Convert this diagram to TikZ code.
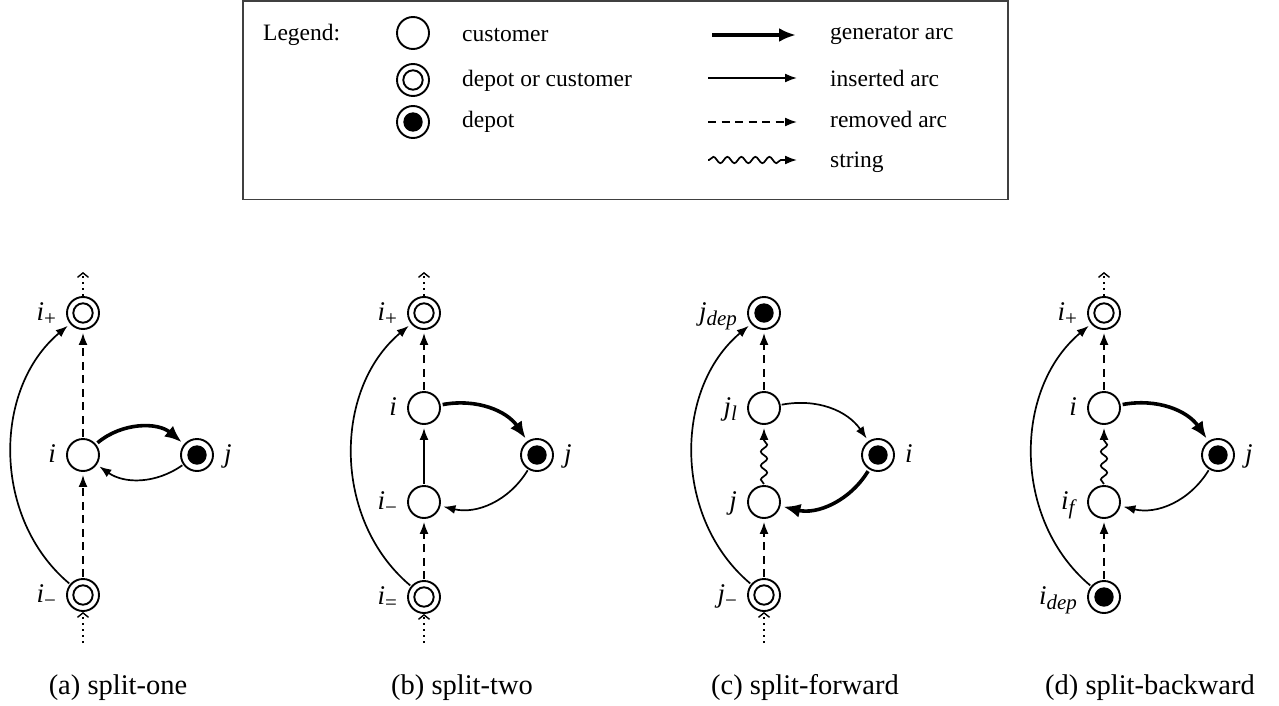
\documentclass[tikz,border=0pt]{standalone}
\usepackage{fontspec}
\setmainfont{Liberation Serif}
\usetikzlibrary{arrows.meta, decorations.pathmorphing}

% lowered, smaller subscript for the node labels
\newcommand\lsub[1]{\raisebox{-5pt}{\fontsize{21}{21}\selectfont #1}}

\begin{document}
\begin{tikzpicture}[x=1pt, y=-1pt,
  cust/.style={circle, draw, line width=1.9pt, minimum size=32pt, inner sep=0pt},
  dual/.style={cust, path picture={\draw[line width=1.9pt] (path picture bounding box.center) circle (9.7pt);}},
  depot/.style={cust, path picture={\fill (path picture bounding box.center) circle (9.7pt);}},
  lbl/.style={inner sep=0pt, font=\fontsize{27}{30}\selectfont},
  txt/.style={inner sep=0pt, anchor=base west, font=\fontsize{23.5}{28}\selectfont},
  captxt/.style={inner sep=0pt, anchor=base, font=\fontsize{28.5}{32}\selectfont},
  ins/.style={line width=1.7pt, -{Latex[length=12pt,width=9pt]}, shorten >=3pt, shorten <=1pt},
  gen/.style={line width=3.6pt, -{Latex[length=17pt,width=14pt]}, shorten >=3pt, shorten <=2pt},
  rem/.style={ins, dash pattern=on 8pt off 5.5pt},
  str/.style={ins, decorate, decoration={snake, amplitude=3.2pt, segment length=14pt, pre length=1pt, post length=13pt}},
  cont/.style={line width=1.4pt, dash pattern=on 1.6pt off 4.5pt, -{Straight Barb[length=4.5pt,width=11pt]}},
]
\useasboundingbox (0,0) rectangle (1279,706);

% ---------------- legend ----------------
\draw[line width=1.3pt, black!75] (243,1) rectangle (1008,199.5);
\node[txt] (lg) at (263,41) {Legend:};
\node[cust]  (lg-c) at (413,33) {};
\node[dual]  (lg-d) at (413,80) {};
\node[depot] (lg-p) at (413,122) {};
\node[txt] (lg-ct) at (462,42) {customer};
\node[txt] (lg-dt) at (462,87) {depot or customer};
\node[txt] (lg-pt) at (462,128) {depot};

\coordinate (lg-g0) at (712,35);  \coordinate (lg-g1) at (796,35);
\coordinate (lg-i0) at (708,78);  \coordinate (lg-i1) at (797,78);
\coordinate (lg-r0) at (708,122); \coordinate (lg-r1) at (797,122);
\coordinate (lg-s0) at (708,160); \coordinate (lg-s1) at (797,160);
\draw[gen, shorten >=0pt, shorten <=0pt] (lg-g0) -- (lg-g1);
\draw[ins, shorten >=0pt, shorten <=0pt] (lg-i0) -- (lg-i1);
\draw[rem, shorten >=0pt, shorten <=0pt] (lg-r0) -- (lg-r1);
\draw[str, shorten >=0pt, shorten <=0pt] (lg-s0) -- (lg-s1);
\node[txt] (lg-gt) at (830,40) {generator arc};
\node[txt] (lg-it) at (830,87) {inserted arc};
\node[txt] (lg-rt) at (830,128) {removed arc};
\node[txt] (lg-st) at (830,167) {string};

% ---------------- (a) split-one ----------------
\node[dual]  (a-ip) at (83,313) {};
\node[cust]  (a-i)  at (83,455) {};
\node[dual]  (a-im) at (83,595) {};
\node[depot] (a-j)  at (197,455) {};
\node[lbl, anchor=base east] (a-ip-l) at ([xshift=-10pt,yshift=-7pt]a-ip.west) {\textit{i}\lsub{+}};
\node[lbl, anchor=base east] (a-i-l)  at ([xshift=-10pt,yshift=-7pt]a-i.west)  {\textit{i}};
\node[lbl, anchor=base east] (a-im-l) at ([xshift=-10pt,yshift=-7pt]a-im.west) {\textit{i}\lsub{−}};
\node[lbl, anchor=base west] (a-j-l)  at ([xshift=10pt,yshift=-7pt]a-j.east)   {\textit{j}};
\coordinate (a-top) at (83,272);
\coordinate (a-bot) at (83,643);
\draw[rem] (a-im) -- (a-i);
\draw[rem] (a-i) -- (a-ip);
\draw[gen] (a-i) to[bend left=40] (a-j);
\draw[ins] (a-j) to[bend left=35] (a-i);
\draw[ins] (a-im) to[bend left=50] (a-ip);
\draw[cont] (a-ip) -- (a-top);
\draw[cont] (a-bot) -- (a-im);
\node[captxt] (a-cap) at (118,694) {(a) split-one};

% ---------------- (b) split-two ----------------
\node[dual]  (b-ip) at (424,313) {};
\node[cust]  (b-i)  at (424,408) {};
\node[cust]  (b-im) at (424,502) {};
\node[dual]  (b-ie) at (424,597) {};
\node[depot] (b-j)  at (537,455) {};
\node[lbl, anchor=base east] (b-ip-l) at ([xshift=-10pt,yshift=-7pt]b-ip.west) {\textit{i}\lsub{+}};
\node[lbl, anchor=base east] (b-i-l)  at ([xshift=-10pt,yshift=-7pt]b-i.west)  {\textit{i}};
\node[lbl, anchor=base east] (b-im-l) at ([xshift=-10pt,yshift=-7pt]b-im.west) {\textit{i}\lsub{−}};
\node[lbl, anchor=base east] (b-ie-l) at ([xshift=-10pt,yshift=-7pt]b-ie.west) {\textit{i}\lsub{=}};
\node[lbl, anchor=base west] (b-j-l)  at ([xshift=10pt,yshift=-7pt]b-j.east)   {\textit{j}};
\coordinate (b-top) at (424,272);
\coordinate (b-bot) at (424,643);
\draw[rem] (b-i) -- (b-ip);
\draw[ins] (b-im) -- (b-i);
\draw[rem] (b-ie) -- (b-im);
\draw[gen] (b-i) to[bend left=33] (b-j);
\draw[ins] (b-j) to[bend left=36] (b-im);
\draw[ins] (b-ie) to[bend left=50] (b-ip);
\draw[cont] (b-ip) -- (b-top);
\draw[cont] (b-bot) -- (b-ie);
\node[captxt] (b-cap) at (462,694) {(b) split-two};

% ---------------- (c) split-forward ----------------
\node[depot] (c-jd) at (764,313) {};
\node[cust]  (c-jl) at (764,408) {};
\node[cust]  (c-j)  at (764,502) {};
\node[dual]  (c-jm) at (764,595) {};
\node[depot] (c-i)  at (878,455) {};
\node[lbl, anchor=base east] (c-jd-l) at ([xshift=-10pt,yshift=-7pt]c-jd.west) {\textit{j}\lsub{\textit{dep}}};
\node[lbl, anchor=base east] (c-jl-l) at ([xshift=-10pt,yshift=-7pt]c-jl.west) {\textit{j}\lsub{\textit{l}}};
\node[lbl, anchor=base east] (c-j-l)  at ([xshift=-10pt,yshift=-7pt]c-j.west)  {\textit{j}};
\node[lbl, anchor=base east] (c-jm-l) at ([xshift=-10pt,yshift=-7pt]c-jm.west) {\textit{j}\lsub{−}};
\node[lbl, anchor=base west] (c-i-l)  at ([xshift=10pt,yshift=-7pt]c-i.east)   {\textit{i}};
\coordinate (c-bot) at (764,643);
\draw[rem] (c-jl) -- (c-jd);
\draw[str] (c-j) -- (c-jl);
\draw[rem] (c-jm) -- (c-j);
\draw[ins] (c-jl) to[bend left=33] (c-i);
\draw[gen] (c-i) to[bend left=36] (c-j);
\draw[ins] (c-jm) to[bend left=50] (c-jd);
\draw[cont] (c-bot) -- (c-jm);
\node[captxt] (c-cap) at (805,694) {(c) split-forward};

% ---------------- (d) split-backward ----------------
\node[dual]  (d-ip) at (1104,313) {};
\node[cust]  (d-i)  at (1104,408) {};
\node[cust]  (d-if) at (1104,502) {};
\node[depot] (d-id) at (1104,597) {};
\node[depot] (d-j)  at (1218,455) {};
\node[lbl, anchor=base east] (d-ip-l) at ([xshift=-10pt,yshift=-7pt]d-ip.west) {\textit{i}\lsub{+}};
\node[lbl, anchor=base east] (d-i-l)  at ([xshift=-10pt,yshift=-7pt]d-i.west)  {\textit{i}};
\node[lbl, anchor=base east] (d-if-l) at ([xshift=-10pt,yshift=-7pt]d-if.west) {\textit{i}\lsub{\textit{f}}};
\node[lbl, anchor=base east] (d-id-l) at ([xshift=-10pt,yshift=-7pt]d-id.west) {\textit{i}\lsub{\textit{dep}}};
\node[lbl, anchor=base west] (d-j-l)  at ([xshift=10pt,yshift=-7pt]d-j.east)   {\textit{j}};
\coordinate (d-top) at (1104,272);
\draw[rem] (d-i) -- (d-ip);
\draw[str] (d-if) -- (d-i);
\draw[rem] (d-id) -- (d-if);
\draw[gen] (d-i) to[bend left=33] (d-j);
\draw[ins] (d-j) to[bend left=36] (d-if);
\draw[ins] (d-id) to[bend left=50] (d-ip);
\draw[cont] (d-ip) -- (d-top);
\node[captxt] (d-cap) at (1150,694) {(d) split-backward};
\end{tikzpicture}
\end{document}
